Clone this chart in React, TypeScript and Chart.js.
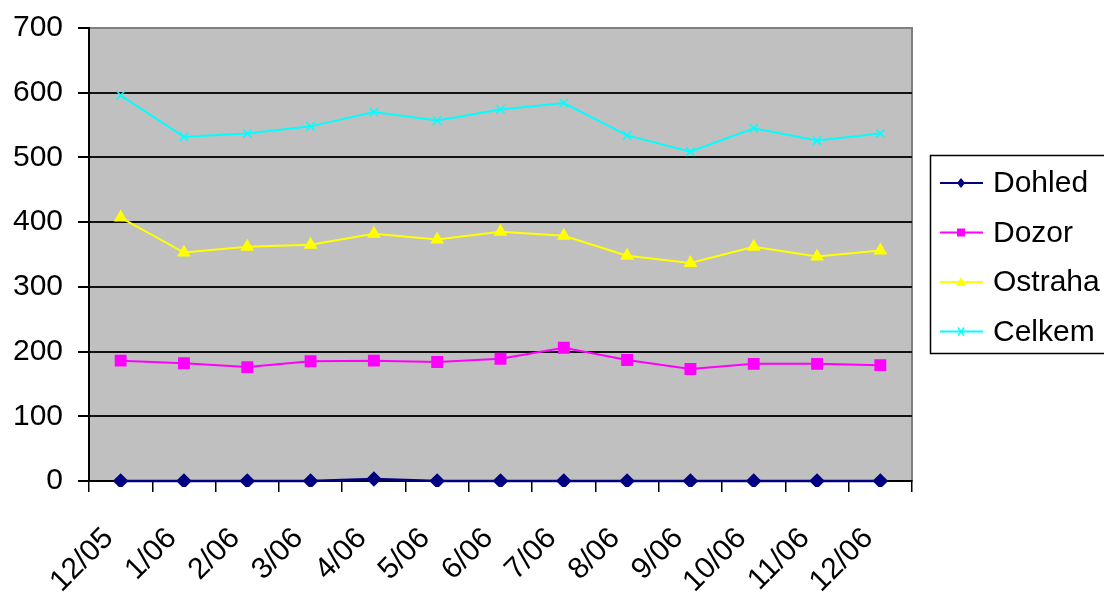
import React, { useEffect, useRef } from 'react';
import { Chart, registerables } from 'chart.js';

Chart.register(...registerables);

const months = ['12/05', '1/06', '2/06', '3/06', '4/06', '5/06', '6/06', '7/06', '8/06', '9/06', '10/06', '11/06', '12/06'];
const dohled = [0, 0, 0, 0, 3, 0, 0, 0, 0, 0, 0, 0, 0];
const dozor = [186, 182, 176, 185, 186, 184, 189, 206, 187, 173, 181, 181, 179];
const ostraha = [407, 353, 362, 365, 382, 373, 385, 379, 348, 337, 362, 347, 356];
const celkem = [596, 532, 537, 548, 570, 557, 574, 584, 534, 509, 545, 526, 537];

const FONT = '"Liberation Sans", Arial, sans-serif';

// šedé pozadí grafu
const plotBg = {
  id: 'plotBg',
  beforeDraw(chart: any) {
    const { ctx, chartArea: a } = chart;
    ctx.save();
    ctx.fillStyle = '#c0c0c0';
    ctx.fillRect(a.left, a.top, a.right - a.left, a.bottom - a.top);
    ctx.strokeStyle = '#808080';
    ctx.lineWidth = 2;
    ctx.strokeRect(a.left, a.top, a.right - a.left, a.bottom - a.top);
    ctx.restore();
  },
};

// legenda v rámečku vpravo
const boxLegend = {
  id: 'boxLegend',
  afterDraw(chart: any) {
    const { ctx } = chart;
    ctx.save();
    ctx.strokeStyle = '#000';
    ctx.lineWidth = 1.5;
    ctx.strokeRect(930.5, 155.5, 190, 198);
    ctx.font = `30px ${FONT}`;
    ctx.textBaseline = 'middle';
    chart.data.datasets.forEach((ds: any, i: number) => {
      const y = 183 + i * 49.5;
      ctx.strokeStyle = ds.borderColor;
      ctx.lineWidth = 2;
      ctx.beginPath();
      ctx.moveTo(940, y);
      ctx.lineTo(983, y);
      ctx.stroke();
      ctx.fillStyle = ds.pointBackgroundColor;
      ctx.strokeStyle = ds.pointBorderColor;
      ctx.lineWidth = 1.5;
      const x = 961;
      ctx.beginPath();
      if (ds.pointStyle === 'rectRot') {
        ctx.moveTo(x, y - 5); ctx.lineTo(x + 4, y); ctx.lineTo(x, y + 5); ctx.lineTo(x - 4, y); ctx.closePath(); ctx.fill();
      } else if (ds.pointStyle === 'rect') {
        ctx.fillRect(x - 4, y - 4, 8, 8);
      } else if (ds.pointStyle === 'triangle') {
        ctx.moveTo(x, y - 5); ctx.lineTo(x + 5, y + 4); ctx.lineTo(x - 5, y + 4); ctx.closePath(); ctx.fill();
      } else {
        ctx.moveTo(x - 3, y - 4); ctx.lineTo(x + 3, y + 4);
        ctx.moveTo(x + 3, y - 4); ctx.lineTo(x - 3, y + 4);
        ctx.stroke();
      }
      ctx.fillStyle = '#000';
      ctx.fillText(ds.label, 993, y + 1);
    });
    ctx.restore();
  },
};

export default function App() {
  const canvasRef = useRef<HTMLCanvasElement>(null);

  useEffect(() => {
    document.body.style.margin = '0';
    if (!canvasRef.current) return;
    const chart = new Chart(canvasRef.current, {
      type: 'line',
      data: {
        labels: months,
        datasets: [
          {
            label: 'Dohled', data: dohled, borderColor: '#000080', borderWidth: 2.5, clip: 6,
            pointStyle: 'rectRot', pointRadius: 6, pointBackgroundColor: '#000080', pointBorderColor: '#000080',
          },
          {
            label: 'Dozor', data: dozor, borderColor: '#ff00ff', borderWidth: 2,
            pointStyle: 'rect', pointRadius: 7, pointBackgroundColor: '#ff00ff', pointBorderColor: '#ff00ff',
          },
          {
            label: 'Ostraha', data: ostraha, borderColor: '#ffff00', borderWidth: 2,
            pointStyle: 'triangle', pointRadius: 6, pointBackgroundColor: '#ffff00', pointBorderColor: '#ffff00',
          },
          {
            label: 'Celkem', data: celkem, borderColor: '#00ffff', borderWidth: 2,
            pointStyle: 'crossRot', pointRadius: 6, pointBorderWidth: 1.5, pointBackgroundColor: '#00ffff', pointBorderColor: '#00ffff',
          },
        ],
      },
      options: {
        responsive: true,
        maintainAspectRatio: false,
        animation: false,
        layout: { padding: { left: 12, right: 192, top: 28, bottom: 0 } },
        plugins: {
          legend: { display: false },
          tooltip: { enabled: false },
        },
        scales: {
          x: {
            offset: true,
            grid: { offset: true, drawOnChartArea: false, drawTicks: true, tickLength: 11, color: '#000', lineWidth: 1.5 },
            border: { color: '#000', width: 2 },
            ticks: {
              color: '#000', font: { family: FONT, size: 30 }, minRotation: 45, maxRotation: 45, padding: 29,
              labelOffset: -12, autoSkip: false,
            },
            afterFit: (scale: any) => {
              scale.paddingLeft = 0;
              scale.height = 112;
            },
          },
          y: {
            min: 0,
            max: 700,
            grid: {
              color: (c: any) => (c.tick && c.tick.value === 700 ? '#808080' : '#111'),
              tickColor: '#000',
              lineWidth: 2,
              tickLength: 11,
            },
            border: { color: '#000', width: 2 },
            ticks: { stepSize: 100, color: '#000', font: { family: FONT, size: 30 }, padding: 15 },
            afterFit: (scale: any) => {
              scale.width = 77;
              scale.paddingTop = 0;
              scale.paddingBottom = 0;
            },
          },
        },
      },
      plugins: [plotBg, boxLegend],
    });
    return () => chart.destroy();
  }, []);

  return (
    <div style={{ width: 1104, height: 593, position: 'relative', background: '#fff' }}>
      <canvas ref={canvasRef}></canvas>
    </div>
  );
}
